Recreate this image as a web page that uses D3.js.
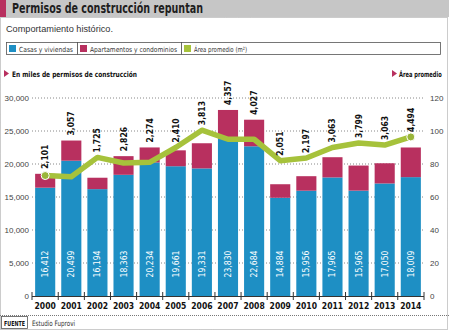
<!DOCTYPE html>
<meta charset="utf-8">
<style>
body { margin:0; background:#fff; }
svg { display:block; font-family:"DejaVu Sans Condensed","Liberation Sans",Arial,sans-serif; }
.title { font-weight:bold; font-size:14px; fill:#1e1e1e; }
.sub { font-family:"Liberation Sans",sans-serif; font-size:9.5px; fill:#333; }
.leg { font-size:7px; fill:#333; }
.head { font-weight:bold; font-size:7.5px; fill:#111; }
.tick text { font-size:8px; fill:#444; }
.grid line { stroke:#888; stroke-dasharray:1,2; }
.year { font-weight:bold; font-size:8.5px; fill:#111; }
.inval { font-size:8.5px; fill:#fff; }
.topval { font-weight:bold; font-size:8.5px; fill:#111; }
</style>
<body>
<script src="https://cdn.jsdelivr.net/npm/d3@7"></script>
<script>

var years = ["2000","2001","2002","2003","2004","2005","2006","2007","2008","2009","2010","2011","2012","2013","2014"];
var casas = [16412,20499,16194,18363,20234,19661,19331,23830,22684,14884,15956,17965,15965,17050,18009];
var aptos = [2101,3057,1725,2826,2274,2410,3813,4357,4027,2051,2197,3063,3799,3063,4494];
var area  = [73,72.3,84,80.6,81,90,100.5,95,95,82,83.6,90,92.7,91.5,96.4];
var leftTicks = [0,5000,10000,15000,20000,25000,30000];
var rightTicks = [0,20,40,60,80,100,120];

var cBlue = "#1e8fc4", cRed = "#b8305f", cGreen = "#a6c23b";
var fmt = d3.format(",");

var svg = d3.select("body").append("svg").attr("width",449).attr("height",330);

// squeeze a text into a fixed width
function fit(sel, w) {
  return sel.attr("textLength", w).attr("lengthAdjust", "spacingAndGlyphs");
}

// header band
svg.append("rect").attr("x",0).attr("y",0).attr("width",449).attr("height",17).attr("fill","#c6c6c6");
svg.append("rect").attr("x",0).attr("y",0).attr("width",6).attr("height",17).attr("fill","#b8305f");
fit(svg.append("text").attr("class","title").attr("x",12).attr("y",13).text("Permisos de construcción repuntan"), 191);

// panel frame
svg.append("rect").attr("x",0.5).attr("y",17.5).attr("width",447).attr("height",312)
  .attr("fill","none").attr("stroke","#999").attr("stroke-dasharray","1,1");

fit(svg.append("text").attr("class","sub").attr("x",6).attr("y",32).text("Comportamiento histórico."), 107);

// legend
var legItems = [
  {label:"Casas y viviendas", color:cBlue, x:6, w:71, tw:54},
  {label:"Apartamentos y condominios", color:cRed, x:77, w:104, tw:87},
  {label:"Área promedio (m²)", color:cGreen, x:181, w:259, tw:53}
];
var leg = svg.append("g");
leg.selectAll("rect.cell").data(legItems).join("rect").attr("class","cell")
  .attr("x",d=>d.x+0.5).attr("y",42.5).attr("width",d=>d.w).attr("height",12)
  .attr("fill","#fff").attr("stroke","#555").attr("stroke-width",0.8);
leg.selectAll("rect.sw").data(legItems).join("rect").attr("class","sw")
  .attr("x",d=>d.x+3).attr("y",45).attr("width",7).attr("height",7).attr("fill",d=>d.color);
leg.selectAll("text").data(legItems).join("text").attr("class","leg")
  .attr("x",d=>d.x+13).attr("y",51.5).text(d=>d.label)
  .attr("textLength",d=>d.tw).attr("lengthAdjust","spacingAndGlyphs");

// axis headings
svg.append("path").attr("d","M4,70 L9,73.5 L4,77 Z").attr("fill",cRed);
fit(svg.append("text").attr("class","head").attr("x",12).attr("y",77).text("En miles de permisos de construcción"), 125);
svg.append("path").attr("d","M392,70 L397,73.5 L392,77 Z").attr("fill",cRed);
svg.append("text").attr("class","head").attr("transform","translate(399,77) scale(0.76,1)").text("Área promedio");

// scales
var x = d3.scaleBand().domain(years).range([32,424]).paddingInner(0.23).paddingOuter(0.12);
var y = d3.scaleLinear().domain([0,30000]).range([296,98]);
var y2 = d3.scaleLinear().domain([0,120]).range([296,98]);

// gridlines
svg.append("g").attr("class","grid").selectAll("line").data(leftTicks.slice(1)).join("line")
  .attr("x1",32).attr("x2",424).attr("y1",d=>y(d)).attr("y2",d=>y(d));

// left axis
var ax = svg.append("g").attr("transform","translate(32,0)")
  .call(d3.axisLeft(y).tickValues(leftTicks).tickFormat(fmt).tickSize(0).tickPadding(3));
ax.select(".domain").remove();

// right axis
var ax2 = svg.append("g").attr("transform","translate(424,0)")
  .call(d3.axisRight(y2).tickValues(rightTicks).tickSize(0).tickPadding(6));
ax2.select(".domain").remove();

// stacked bars
var bars = svg.append("g");
bars.selectAll("rect.casa").data(years).join("rect").attr("class","casa")
  .attr("x",d=>x(d)).attr("width",x.bandwidth())
  .attr("y",(d,i)=>y(casas[i])).attr("height",(d,i)=>y(0)-y(casas[i])).attr("fill",cBlue);
bars.selectAll("rect.apto").data(years).join("rect").attr("class","apto")
  .attr("x",d=>x(d)).attr("width",x.bandwidth())
  .attr("y",(d,i)=>y(casas[i]+aptos[i])).attr("height",(d,i)=>y(casas[i])-y(casas[i]+aptos[i])).attr("fill",cRed);

// baseline and band ticks
svg.append("line").attr("x1",32).attr("x2",424).attr("y1",296.5).attr("y2",296.5).attr("stroke","#333");
var edges = years.map(d=>x(d)-x.step()*x.paddingInner()/2).concat([424]);
edges[0] = 32;
svg.selectAll("line.bt").data(edges).join("line").attr("class","bt")
  .attr("x1",d=>d).attr("x2",d=>d).attr("y1",292).attr("y2",300).attr("stroke","#333");

svg.selectAll("text.year").data(years).join("text").attr("class","year")
  .attr("x",d=>x(d)+x.bandwidth()/2).attr("y",309).attr("text-anchor","middle").text(d=>d);

// area line
var cx = d=>x(d)+x.bandwidth()/2;
var line = d3.line().x((d,i)=>cx(years[i])).y(d=>y2(d));
svg.append("path").datum(area).attr("d",line).attr("fill","none")
  .attr("stroke",cGreen).attr("stroke-width",5.5).attr("stroke-linejoin","round");
svg.selectAll("circle.end").data([0,years.length-1]).join("circle").attr("class","end")
  .attr("cx",i=>cx(years[i])).attr("cy",i=>y2(area[i])).attr("r",4)
  .attr("fill","#9ab53a").attr("stroke","#fff").attr("stroke-width",1);

// value labels inside bars
svg.selectAll("text.inval").data(years).join("text").attr("class","inval")
  .attr("transform",d=>"translate("+(cx(d)+3)+",264) rotate(-90)")
  .attr("text-anchor","middle").text((d,i)=>fmt(casas[i]));

// apartment values above bar/line
svg.selectAll("text.topval").data(years).join("text").attr("class","topval")
  .attr("transform",(d,i)=>{
    var top = Math.min(y(casas[i]+aptos[i]), y2(area[i])) - 5;
    return "translate("+(cx(d)+3)+","+top+") rotate(-90)";
  })
  .text((d,i)=>fmt(aptos[i]));

// source
svg.append("line").attr("x1",0).attr("x2",449).attr("y1",315.5).attr("y2",315.5)
  .attr("stroke","#777").attr("stroke-dasharray","1,1");
svg.append("rect").attr("x",1.5).attr("y",316.5).attr("width",26).attr("height",12)
  .attr("fill","#fff").attr("stroke","#555").attr("stroke-width",0.8);
fit(svg.append("text").attr("class","head").attr("x",4).attr("y",325.5).style("font-size","7px").text("FUENTE"), 21);
fit(svg.append("text").attr("class","leg").attr("x",32).attr("y",325.5).style("font-size","7.5px").text("Estudio Fuprovi"), 43);
</script>
</body>
